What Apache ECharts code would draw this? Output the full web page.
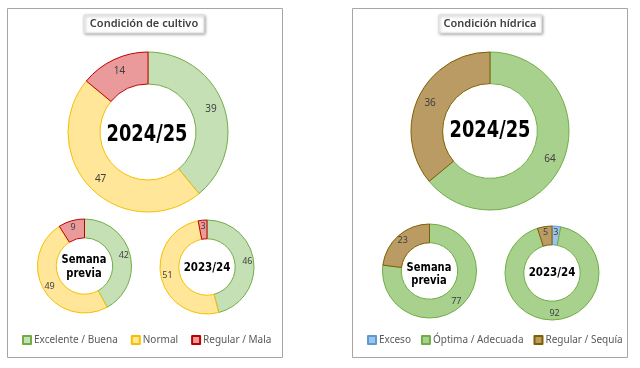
<!DOCTYPE html>
<html><head><meta charset="utf-8">
<script src="https://cdn.jsdelivr.net/npm/echarts@6/dist/echarts.min.js"></script>
<style>html,body{margin:0;padding:0;background:#fff}#c{width:640px;height:368px}</style>
</head><body><div id="c"></div>
<script>
// Data
const cropCategories = ['Excelente / Buena', 'Normal', 'Regular / Mala'];
const cropCurrent = [39, 47, 14];
const cropPrevWeek = [42, 49, 9];
const cropLastYear = [46, 51, 3];

const waterCategories = ['Exceso', 'Óptima / Adecuada', 'Regular / Sequía'];
const waterCurrent = [0, 64, 36];
const waterPrevWeek = [0, 77, 23];
const waterLastYear = [3, 92, 5];

const centerLabels = ['2024/25', 'Semana\nprevia', '2023/24'];
const panelTitles = ['Condición de cultivo', 'Condición hídrica'];

const cropFill = ['#C5E0B4', '#FFE699', '#EA9A9A'];
const cropBorder = ['#70AD47', '#F5C000', '#C00000'];
const waterFill = ['#9DC3E6', '#A9D18E', '#B99B63'];
const waterBorder = ['#5B9BD5', '#70AD47', '#7F6000'];

const FONT = '"Noto Sans", sans-serif';
const CFONT = '"DejaVu Sans Condensed", "DejaVu Sans", sans-serif';

function pie(names, vals, fill, border, center, r, fs) {
  return {
    type: 'pie', center: center, radius: [r * 0.6, r], startAngle: 90, clockwise: true,
    avoidLabelOverlap: false, silent: true,
    label: { show: true, position: 'inside', color: '#404040', fontSize: fs, fontFamily: FONT,
      formatter: p => p.value === 0 ? '' : String(p.value) },
    labelLine: { show: false },
    data: names.map((n, i) => ({ name: n, value: vals[i],
      itemStyle: { color: fill[i], borderColor: border[i], borderWidth: 1 } }))
  };
}

const chart = echarts.init(document.getElementById('c'), null, { renderer: 'canvas' });

function centerText(x, y, text, size, sx) {
  return { type: 'text', x: x, y: y, scaleX: sx, z: 100, style: { text: text, x: 0, y: 0, align: 'center', verticalAlign: 'middle',
    font: 'bold ' + size + 'px ' + CFONT, fill: '#000', lineHeight: 13.5,
    textShadowColor: '#fff', textShadowBlur: 3 } };
}
function titleBox(cx, text, w) {
  return [
    { type: 'rect', shape: { x: cx - w / 2, y: 15, width: w, height: 18 }, z: 5,
      style: { fill: '#fff', stroke: '#E0E0E0', lineWidth: 1, shadowColor: 'rgba(0,0,0,0.35)', shadowBlur: 3, shadowOffsetX: 1, shadowOffsetY: 1 } },
    { type: 'text', x: cx, y: 24, z: 6, style: { text: text, align: 'center', verticalAlign: 'middle',
      font: '600 11px ' + FONT, fill: '#404040' } }
  ];
}

chart.setOption({
  animation: false,
  graphic: [
    { type: 'rect', shape: { x: 7.5, y: 8.5, width: 275, height: 349 }, z: 0, style: { fill: '#fff', stroke: '#A6A6A6', lineWidth: 1 } },
    { type: 'rect', shape: { x: 352.5, y: 8.5, width: 275, height: 349 }, z: 0, style: { fill: '#fff', stroke: '#A6A6A6', lineWidth: 1 } },
    ...titleBox(144, panelTitles[0], 120),
    ...titleBox(490, panelTitles[1], 103),
    centerText(147, 135, centerLabels[0], 23, 0.86),
    centerText(84, 266.5, centerLabels[1], 13, 0.85),
    centerText(207, 268, centerLabels[2], 13, 0.88),
    centerText(490, 131, centerLabels[0], 23, 0.86),
    centerText(429, 274, centerLabels[1], 13, 0.85),
    centerText(552, 273, centerLabels[2], 13, 0.88)
  ],
  legend: [
    { data: cropCategories, left: 22, top: 335, padding: 0, itemWidth: 8, itemHeight: 8, itemGap: 13, icon: 'rect',
      textStyle: { color: '#595959', fontSize: 10, fontFamily: FONT, padding: [0, 0, 0, -2] } },
    { data: waterCategories, left: 367, top: 335, padding: 0, itemWidth: 8, itemHeight: 8, itemGap: 10, icon: 'rect',
      textStyle: { color: '#595959', fontSize: 10, fontFamily: FONT, padding: [0, 0, 0, -2] } }
  ],
  series: [
    pie(cropCategories, cropCurrent, cropFill, cropBorder, [148, 132], 80, 10),
    pie(cropCategories, cropPrevWeek, cropFill, cropBorder, [84.5, 266], 47, 9),
    pie(cropCategories, cropLastYear, cropFill, cropBorder, [207, 267], 47, 9),
    pie(waterCategories, waterCurrent, waterFill, waterBorder, [490, 131], 79, 10),
    pie(waterCategories, waterPrevWeek, waterFill, waterBorder, [429.5, 271], 47, 9),
    pie(waterCategories, waterLastYear, waterFill, waterBorder, [552, 273], 47, 9)
  ]
});
</script></body></html>
